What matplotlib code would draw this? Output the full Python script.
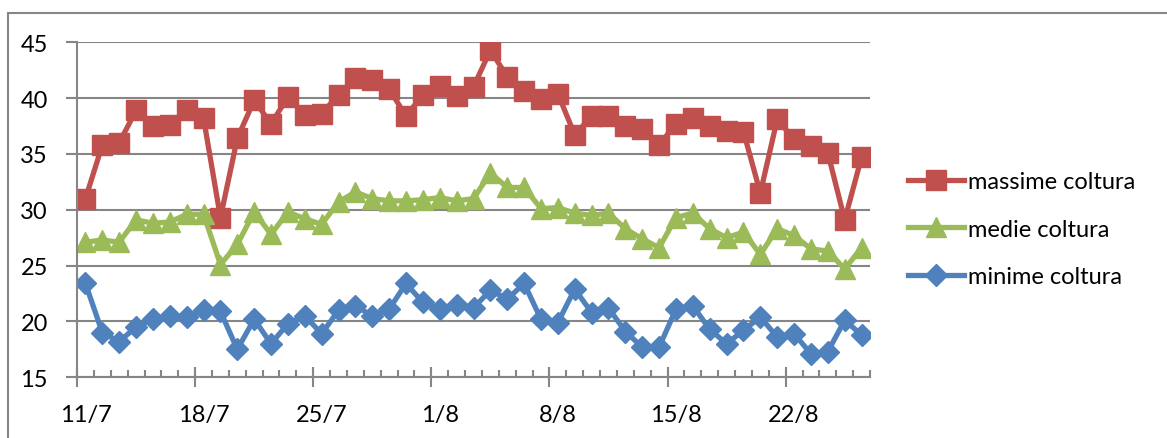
import numpy as np
import matplotlib
matplotlib.use('Agg')
import matplotlib.pyplot as plt

# giorni dall'11/7 al 26/8
days = ['11/7', '12/7', '13/7', '14/7', '15/7', '16/7', '17/7', '18/7', '19/7', '20/7',
        '21/7', '22/7', '23/7', '24/7', '25/7', '26/7', '27/7', '28/7', '29/7', '30/7',
        '31/7', '1/8', '2/8', '3/8', '4/8', '5/8', '6/8', '7/8', '8/8', '9/8',
        '10/8', '11/8', '12/8', '13/8', '14/8', '15/8', '16/8', '17/8', '18/8', '19/8',
        '20/8', '21/8', '22/8', '23/8', '24/8', '25/8', '26/8']

massime = [31.0, 35.8, 36.0, 38.9, 37.5, 37.6, 38.9, 38.2, 29.3, 36.4,
           39.8, 37.7, 40.1, 38.5, 38.6, 40.3, 41.8, 41.6, 40.8, 38.4,
           40.3, 41.1, 40.2, 41.0, 44.3, 41.9, 40.6, 39.9, 40.4, 36.7,
           38.4, 38.4, 37.5, 37.2, 35.8, 37.7, 38.2, 37.5, 37.1, 37.0,
           31.5, 38.1, 36.3, 35.7, 35.1, 29.1, 34.7]

medie = [27.1, 27.3, 27.1, 29.1, 28.8, 28.9, 29.6, 29.6, 25.1, 26.9,
         29.8, 27.8, 29.8, 29.2, 28.7, 30.7, 31.6, 31.0, 30.8, 30.8,
         30.9, 31.1, 30.8, 31.0, 33.3, 32.0, 32.0, 30.1, 30.2, 29.7,
         29.5, 29.7, 28.3, 27.4, 26.6, 29.3, 29.7, 28.3, 27.5, 28.0,
         26.0, 28.3, 27.7, 26.5, 26.3, 24.7, 26.6]

minime = [23.4, 19.0, 18.2, 19.5, 20.2, 20.5, 20.4, 21.0, 20.9, 17.5,
          20.2, 18.0, 19.8, 20.5, 18.9, 21.0, 21.4, 20.5, 21.1, 23.4,
          21.7, 21.1, 21.5, 21.2, 22.8, 22.0, 23.4, 20.2, 19.9, 22.9,
          20.8, 21.2, 19.1, 17.7, 17.7, 21.1, 21.4, 19.3, 18.0, 19.2,
          20.4, 18.6, 18.9, 17.1, 17.3, 20.1, 18.8]

grey = '#868686'
plt.rcParams['font.family'] = ['Lato', 'DejaVu Sans']

fig = plt.figure(figsize=(11.67, 4.39), dpi=100)
# bordo dell'area grafico
fig.patches.append(plt.Rectangle((8 / 1167, -0.1), 1.2, 1 - 14 / 439 + 0.1,
                                 transform=fig.transFigure, fill=False,
                                 edgecolor=grey, linewidth=1.5))
ax = fig.add_axes([0.066, 0.1383, 0.6795, 0.7631])

x = np.arange(len(days))
ax.plot(x, massime, color='#C0504D', lw=3.8, marker='s', ms=14, label='massime coltura')
ax.plot(x, medie, color='#9BBB59', lw=3.8, marker='^', ms=14, label='medie coltura')
ax.plot(x, minime, color='#4F81BD', lw=3.8, marker='D', ms=11.5, label='minime coltura')

ax.set_xlim(-0.5, len(days) - 0.5)
ax.set_ylim(15, 45)
ax.set_yticks(range(15, 46, 5))
ax.grid(axis='y', color=grey, lw=1.5)
ax.set_axisbelow(True)

for s in ['top', 'right']:
    ax.spines[s].set_visible(False)
for s in ['left', 'bottom']:
    ax.spines[s].set_color(grey)
    ax.spines[s].set_linewidth(1.5)

# etichette centrate sulle categorie, tacche sui bordi
lab_pos = x[::7]
ax.set_xticks(lab_pos, [days[i] for i in lab_pos])
ax.set_xticks(np.arange(-0.5, len(days), 1), minor=True)
ax.tick_params(axis='x', which='major', length=0, pad=19, labelsize=17)
ax.tick_params(axis='x', which='minor', direction='in', length=5, color=grey, width=1.5)
ax.tick_params(axis='y', length=8, color=grey, width=1.5, pad=13, labelsize=17)

sec = ax.secondary_xaxis('bottom')
sec.set_xticks(np.arange(-0.5, len(days), 7))
sec.tick_params(direction='inout', length=14, color=grey, width=1.5, labelbottom=False)
sec.spines['bottom'].set_visible(False)

fig.legend(loc='center left', bbox_to_anchor=(0.770, 0.476), frameon=False,
           fontsize=17, handlelength=2.35, handletextpad=0.17, labelspacing=1.12,
           borderaxespad=0)

fig.savefig('out.png', dpi=100)
